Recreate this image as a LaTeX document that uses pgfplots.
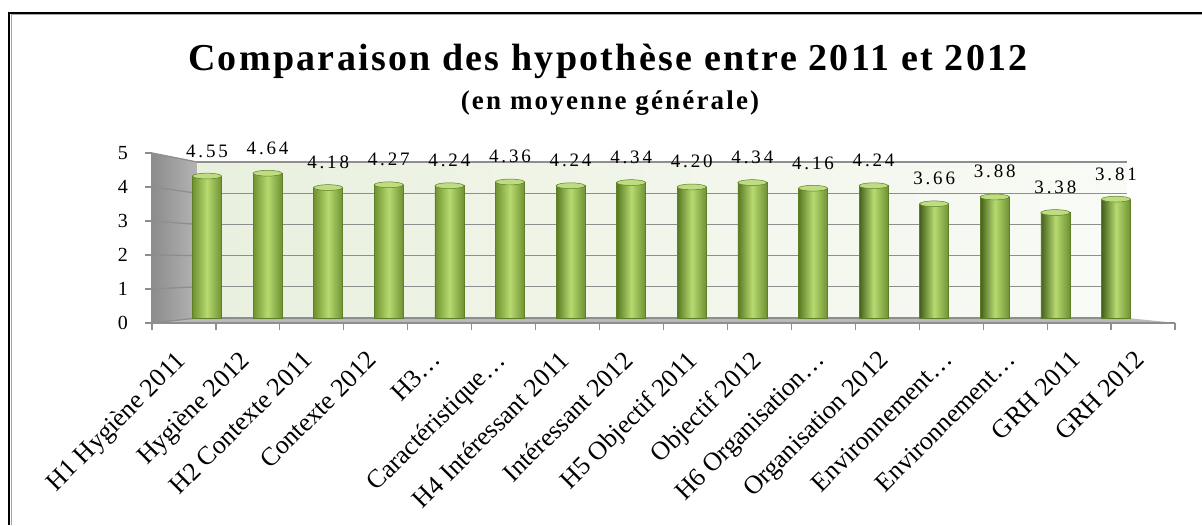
\documentclass[border=0pt]{standalone}
\usepackage{fontspec}
\setmainfont{Liberation Serif}
\newfontfamily\titlefont{Liberation Serif}[LetterSpace=6]
\newfontfamily\subfont{Liberation Serif}[LetterSpace=8]
\newfontfamily\valfont{Liberation Serif}[LetterSpace=15]
\usepackage{pgfplots}
\pgfplotsset{compat=1.18}

\definecolor{barL1}{HTML}{6F9230}
\definecolor{barL2}{HTML}{587822}
\definecolor{barL3}{HTML}{42601A}
\definecolor{barmid}{HTML}{B7DA70}
\definecolor{barright}{HTML}{6E9134}
\definecolor{bartop}{HTML}{BEDC80}
\definecolor{barline}{HTML}{5E7F26}
\definecolor{wallL}{HTML}{E9F0DE}
\definecolor{wallR}{HTML}{F9FBF6}
\definecolor{sideL}{HTML}{8C8C8C}
\definecolor{sideR}{HTML}{B4B4B4}
\definecolor{floorc}{HTML}{B9B9B9}
\definecolor{gridgray}{HTML}{8E8E8E}

\pgfplotstableread{
x y
1 4.55
2 4.64
3 4.18
4 4.27
5 4.24
6 4.36
7 4.24
8 4.34
9 4.20
10 4.34
11 4.16
12 4.24
13 3.66
14 3.88
15 3.38
16 3.81
}\datatable

\pgfplotsset{
  cylbar/.style={ybar, bar width=29pt, bar shift=0pt, draw=barline, line width=0.5pt,
    left color=#1, right color=barright, middle color=barmid,
    /pgf/number format/assume math mode=true,
    nodes near coords={\pgfmathprintnumber[fixed,fixed zerofill,precision=2]{\pgfplotspointmeta}},
    every node near coord/.append style={anchor=base, yshift=19pt, inner sep=0pt, text=black, font=\valfont\fontsize{19}{22}\selectfont}},
}
\newcommand\cyl[3]{\addplot[cylbar=#3] coordinates {(#1,#2)};}

\begin{document}
\begin{tikzpicture}
\path[use as bounding box] (0pt,0pt) rectangle (1202pt,-525pt);
% frame
\draw[black, line width=2.3pt] (8.8pt,-525pt) -- (8.8pt,-12.8pt) -- (1202pt,-12.8pt);
\draw[black!35, line width=1pt] (11.5pt,-525pt) -- (11.5pt,-14.8pt) -- (1202pt,-14.8pt);
% title
\node[anchor=base, inner sep=0pt, font=\titlefont\bfseries\fontsize{38}{44}\selectfont] at (608pt,-70pt) {Comparaison des hypothèse entre 2011 et 2012};
\node[anchor=base, inner sep=0pt, font=\subfont\bfseries\fontsize{27}{31}\selectfont] at (610pt,-109pt) {(en moyenne générale)};
% side wall and floor
\shade[left color=sideL, right color=sideR] (152pt,-153pt) -- (197pt,-162pt) -- (197pt,-318pt) -- (152pt,-323pt) -- cycle;
\fill[floorc] (152pt,-323pt) -- (1177pt,-323pt) -- (1127pt,-318pt) -- (197pt,-318pt) -- cycle;
\foreach \k in {0,...,5}{
  \draw[gridgray, line width=1.3pt] (152pt,{(-323+34*\k)*1pt}) -- (197pt,{(-318+31.2*\k)*1pt});
}
% back wall with bars
\begin{axis}[
  at={(197pt,-318pt)}, anchor=south west,
  scale only axis, width=930pt, height=156pt,
  xmin=0.835, xmax=16.182, ymin=0, ymax=5,
  axis line style={draw=none},
  xtick=\empty, ytick={0,...,5}, yticklabels={,,,,,,},
  major tick length=0pt,
  ymajorgrids, grid style={gridgray, line width=1.3pt},
  axis background/.style={left color=wallL, right color=wallR},
  clip=false,
]
\cyl{1}{4.55}{barL1}
\cyl{2}{4.64}{barL1}
\cyl{3}{4.18}{barL1}
\cyl{4}{4.27}{barL1}
\cyl{5}{4.24}{barL1}
\cyl{6}{4.36}{barL1}
\cyl{7}{4.24}{barL2}
\cyl{8}{4.34}{barL2}
\cyl{9}{4.20}{barL2}
\cyl{10}{4.34}{barL2}
\cyl{11}{4.16}{barL2}
\cyl{12}{4.24}{barL3}
\cyl{13}{3.66}{barL3}
\cyl{14}{3.88}{barL3}
\cyl{15}{3.38}{barL3}
\cyl{16}{3.81}{barL3}
\addplot[only marks, mark=*, mark size=14.5pt, mark options={yscale=0.2, fill=bartop, draw=barline, line width=0.5pt}]
  table[x=x, y=y] {\datatable};
\end{axis}
% front axis: ticks and labels
\begin{axis}[
  at={(152pt,-323pt)}, anchor=south west,
  scale only axis, width=1023pt, height=170pt,
  xmin=0, xmax=16, ymin=0, ymax=5,
  axis x line*=bottom, axis y line*=left,
  axis line style={-, draw=gridgray, line width=1.2pt},
  xtick={0,...,16}, xticklabels={,,,,,,,,,,,,,,,,,},
  ytick={0,...,5},
  /pgf/number format/assume math mode=true,
  tick align=outside, major tick length=7pt,
  tick style={draw=gridgray, line width=1.2pt},
  yticklabel style={anchor=east, inner sep=0pt, xshift=-17pt, font=\fontsize{20}{24}\selectfont},
  extra x ticks={0.5,1.5,2.5,3.5,4.5,5.5,6.5,7.5,8.5,9.5,10.5,11.5,12.5,13.5,14.5,15.5},
  extra x tick labels={H1 Hygiène 2011,Hygiène 2012,H2 Contexte 2011,Contexte 2012,H3…,Caractéristique…,H4 Intéressant 2011,Intéressant 2012,H5 Objectif 2011,Objectif 2012,H6 Organisation…,Organisation 2012,Environnement…,Environnement…,GRH 2011,GRH 2012},
  extra x tick style={major tick length=0pt, tick style={draw=none},
    xticklabel style={font=\fontsize{26}{29}\selectfont, inner sep=0pt, xshift=-10pt, yshift=-26pt, rotate=45, anchor=north east}},
]
\end{axis}
\end{tikzpicture}
\end{document}
